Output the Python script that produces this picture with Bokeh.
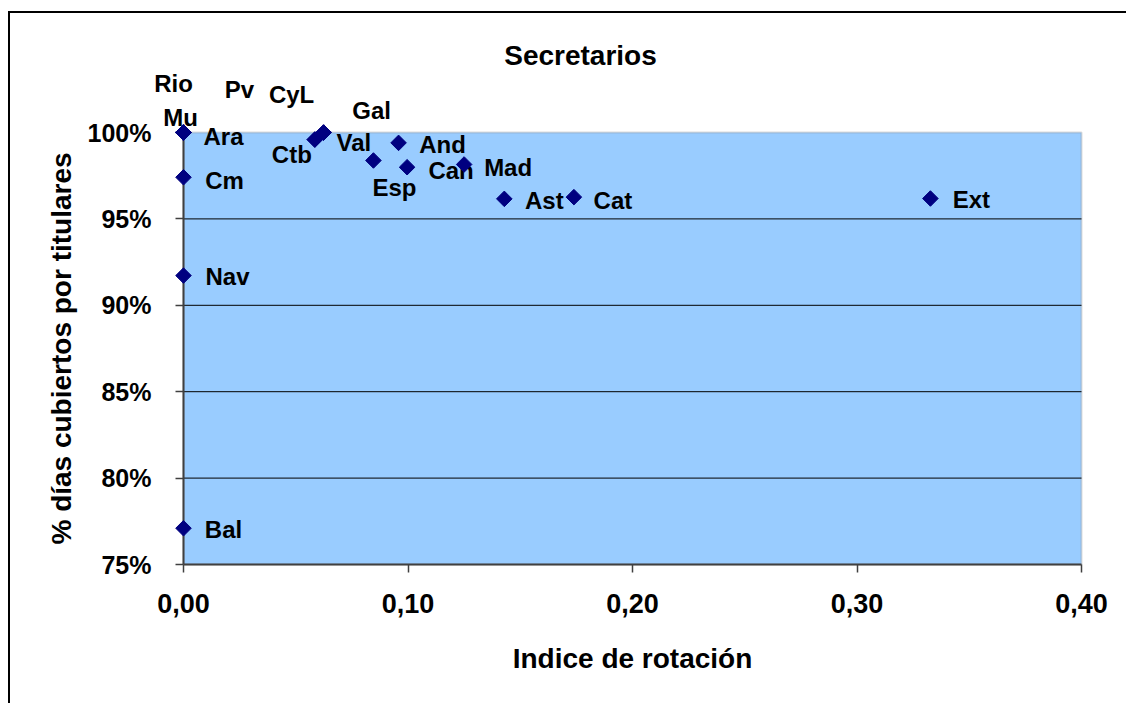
import math
from bokeh.plotting import figure
from bokeh.models import (ColumnDataSource, LabelSet, Label, FixedTicker,
                          CustomJSTickFormatter, Range1d, BoxAnnotation)
from bokeh.embed import file_html
from bokeh.resources import INLINE
from bokeh.core.properties import value

# ---------------- data ----------------
regions = ["Rio", "Mu", "Ara", "Pv", "CyL", "Gal", "Ctb", "Val", "Esp",
           "And", "Can", "Mad", "Ast", "Cat", "Ext", "Cm", "Nav", "Bal"]
rotation = [0.0, 0.0, 0.0, 0.0, 0.0624, 0.0624, 0.0585, 0.0585, 0.0846,
            0.0958, 0.0996, 0.1250, 0.1429, 0.1739, 0.3327, 0.0, 0.0, 0.0]
coverage = [1.0, 1.0, 1.0, 1.0, 1.0, 1.0, 0.9959, 0.9959, 0.9838,
            0.9940, 0.9799, 0.9815, 0.9616, 0.9626, 0.9618, 0.9741, 0.9172, 0.7710]

x_ticks = [0.0, 0.1, 0.2, 0.3, 0.4]
y_ticks = [0.75, 0.80, 0.85, 0.90, 0.95, 1.00]

title_text = "Secretarios"
x_title = "Indice de rotación"
y_title = "% días cubiertos por titulares"

# ---------------- layout (pixels) ----------------
label_dx = [-10, -3, 40, 56, -32, 48, -23, 39, 21, 44, 44, 44, 40, 39, 41, 41, 44, 40]
label_dy = [49, 15, -4, 43, 38, 22, -15, -3, -27, -2, -3, -3, -2, -3, -1, -3, -1, -1]

FONT = "Liberation Sans"
W, H = 1118, 692
# plot area inside the canvas (px): left, right, top, bottom
PL, PR, PT, PB = 173, 1071, 119, 551

x0, x1 = x_ticks[0], x_ticks[-1]
y0, y1 = y_ticks[0], y_ticks[-1]
sx = (PR - PL) / (x1 - x0)
sy = (PB - PT) / (y1 - y0)

src = ColumnDataSource(dict(region=regions, rotation=rotation, coverage=coverage,
                            dx=label_dx, dy=label_dy))

p = figure(width=W, height=H, output_backend="svg", toolbar_location=None,
           x_range=Range1d(x0 - PL / sx, x1 + (W - PR) / sx),
           y_range=Range1d(y0 - (H - PB) / sy, y1 + PT / sy),
           min_border_left=0, min_border_right=0,
           min_border_top=0, min_border_bottom=0)
p.styles = {"border-left": "2px solid black", "border-top": "2px solid black",
            "margin-left": "8px", "margin-top": "11px"}

p.background_fill_color = "white"
p.border_fill_color = "white"
p.outline_line_color = None
p.xgrid.visible = False
p.ygrid.visible = False

# plot area
area = BoxAnnotation(left=x0, right=x1, bottom=y0, top=y1, level="underlay",
                     fill_color="#99CCFF", fill_alpha=1.0,
                     line_color="#878787", line_width=2)
p.add_layout(area)

# horizontal gridlines
gy = y_ticks[1:-1]
p.segment(x0=[x0] * len(gy), x1=[x1] * len(gy), y0=gy, y1=gy,
          line_color="black", line_width=1)

for ax in (p.xaxis[0], p.yaxis[0]):
    ax.axis_line_color = "#404040"
    ax.axis_line_width = 2
    ax.major_tick_line_color = "#404040"
    ax.major_tick_line_width = 1.5
    ax.major_tick_out = 8
    ax.major_tick_in = 0
    ax.minor_tick_line_color = None
    ax.major_label_text_font = FONT
    ax.major_label_text_font_style = "bold"
    ax.major_label_text_color = "black"
    ax.axis_label_text_font = FONT
    ax.axis_label_text_font_style = "bold"
    ax.axis_label_text_font_size = "28px"
    ax.axis_label_text_color = "black"

p.xaxis.ticker = FixedTicker(ticks=x_ticks)
p.xaxis.formatter = CustomJSTickFormatter(code="return tick.toFixed(2).replace('.', ',');")
p.xaxis.axis_label = x_title
p.xaxis.bounds = (x0, x1)
p.xaxis.fixed_location = y0
p.xaxis.major_label_text_font_size = "27px"
p.xaxis.major_label_standoff = 21
p.xaxis.axis_label_standoff = 27

p.yaxis.ticker = FixedTicker(ticks=y_ticks)
p.yaxis.formatter = CustomJSTickFormatter(code="return Math.round(tick*100) + '%';")
p.yaxis.axis_label = y_title
p.yaxis.bounds = (y0, y1)
p.yaxis.fixed_location = x0
p.yaxis.major_label_text_font_size = "25px"
p.yaxis.major_label_standoff = 24
p.yaxis.axis_label_standoff = 8

p.scatter(x="rotation", y="coverage", source=src, marker="square", level="overlay",
          angle=math.pi / 4, size=11, fill_color="#000080", line_color="#000080")

labels = LabelSet(x="rotation", y="coverage", text="region", source=src,
                  x_offset="dx", y_offset="dy", text_align="center",
                  text_baseline="middle", text_font=value(FONT),
                  text_font_style="bold", text_font_size="24px", text_color="black")
p.add_layout(labels)

# title: centre at canvas (570, 42) from top-left
title = Label(x=570, y=H - 42, x_units="screen", y_units="screen", text=title_text,
              text_align="center", text_baseline="middle", text_font=FONT,
              text_font_style="bold", text_font_size="28px", text_color="black")
p.add_layout(title)

open("out.html", "w").write(file_html(p, INLINE))
